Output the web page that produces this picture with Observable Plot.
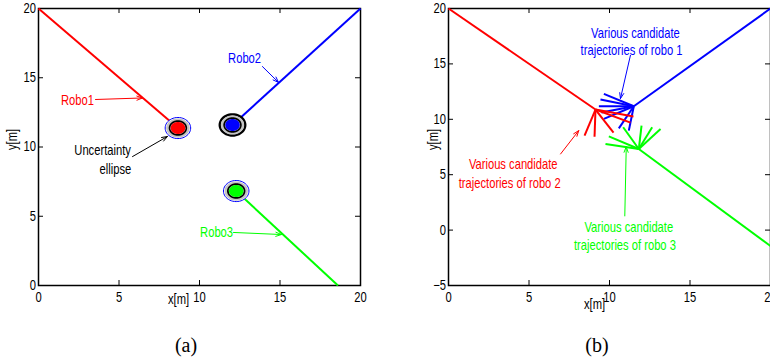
<!DOCTYPE html>
<html><head><meta charset="utf-8">
<script src="https://cdn.jsdelivr.net/npm/d3@7"></script>
<script src="https://cdn.jsdelivr.net/npm/@observablehq/plot@0.6"></script>
<style>
html,body{margin:0;padding:0;background:#fff;overflow:hidden;width:770px;height:362px;}
#wrap{position:relative;width:770px;height:362px;overflow:hidden;}
.panel{position:absolute;top:0;}
.panel svg{max-width:none !important;}
.cap{position:absolute;font-family:"Liberation Serif","DejaVu Serif",serif;font-size:20px;line-height:24px;top:333px;transform:translateX(-50%);}
</style></head><body><div id="wrap">
<div class="panel" id="pa" style="left:0px;width:400px;height:320px"></div>
<div class="panel" id="pb" style="left:410px;width:380px;height:320px"></div>
<div class="cap" style="left:186px">(a)</div>
<div class="cap" style="left:597px">(b)</div>
</div>
<script>
// ---------- Panel (a) data ----------
const robotsA = ["Robo1", "Robo2", "Robo3"];
const posAX = [8.66, 12.05, 12.28];
const posAY = [11.37, 11.59, 6.82];
const startAX = [0, 20, 18.6];
const startAY = [20, 20, 0];
const notesA = ["Robo1", "Uncertainty", "ellipse", "Robo2", "Robo3"];
const notesAX = [2.42, 3.98, 4.78, 12.80, 11.06];
const notesAY = [13.36, 9.75, 8.38, 16.39, 3.83];
const arrowsAX1 = [3.54, 5.84, 13.91, 12.11];
const arrowsAY1 = [13.43, 9.31, 15.81, 3.83];
const arrowsAX2 = [6.46, 8.01, 14.91, 15.09];
const arrowsAY2 = [13.54, 10.76, 14.66, 3.68];
const xTicksA = [0, 5, 10, 15, 20];
const yTicksA = [0, 5, 10, 15, 20];

// ---------- Panel (b) data ----------
const robotsB = ["robo 1", "robo 2", "robo 3"];
const posBX = [11.51, 9.13, 11.82];
const posBY = [11.18, 10.88, 7.32];
const startBX = [20, 0, 20];
const startBY = [20, 20, -1.44];
const cand1X = [9.65, 9.44, 9.34, 9.50, 9.65, 10.58, 11.20];
const cand1Y = [12.30, 11.79, 11.18, 10.61, 10.04, 9.18, 8.98];
const cand2X = [11.49, 11.30, 10.25, 9.07, 8.45];
const cand2Y = [10.25, 9.70, 8.80, 8.43, 8.52];
const cand3X = [9.75, 9.96, 10.85, 11.99, 12.65, 13.17];
const cand3Y = [7.77, 8.46, 9.28, 9.43, 9.28, 9.13];
const notesB = ["Various candidate", "trajectories of robo 1", "Various candidate", "trajectories of robo 2", "Various candidate", "trajectories of robo 3"];
const notesBX = [11.61, 11.37, 4.02, 3.80, 11.20, 10.96];
const notesBY = [17.76, 16.23, 5.90, 4.22, 0.22, -1.35];
const arrowsBX1 = [11.30, 6.96, 10.95];
const arrowsBY1 = [15.77, 6.87, 1.28];
const arrowsBX2 = [10.68, 8.09, 11.04];
const arrowsBY2 = [11.87, 8.98, 7.53];
const xTicksB = [0, 5, 10, 15, 20];
const yTicksB = [-5, 0, 5, 10, 15, 20];

// ---------- styles ----------
const RED = "#ff0000", BLUE = "#0000ff", GREEN = "#00ff00";
const colorA = {"Robo1": RED, "Robo2": BLUE, "Robo3": GREEN};
const colorB = {"robo 1": BLUE, "robo 2": RED, "robo 3": GREEN};
const ringStrokeA = {"Robo1": BLUE, "Robo2": "black", "Robo3": BLUE};
const ringWidthA = {"Robo1": 1, "Robo2": 2.4, "Robo3": 1};
const noteColorA = [RED, "black", "black", BLUE, GREEN];
const noteColorB = [BLUE, BLUE, RED, RED, GREEN, GREEN];
const arrowColorA = [RED, "black", BLUE, GREEN];
const arrowColorB = [BLUE, RED, GREEN];
const FONT = '"Liberation Sans",Arial,sans-serif';
const FS = 14;
const NARROW = 0.8;
const FW = 322, FH = 277, TL = 5;

const ellipseSym = {
  draw(ctx, size) {
    const r = Math.sqrt(size / Math.PI), a = 1.1;
    const rx = r * a, ry = r / a, n = 48;
    for (let i = 0; i < n; i++) {
      const t = 2 * Math.PI * i / n;
      const px = rx * Math.cos(t), py = ry * Math.sin(t);
      if (i === 0) ctx.moveTo(px, py); else ctx.lineTo(px, py);
    }
    ctx.closePath();
  }
};

function frameMarks(xTicks, yTicks, xLabelDx, xLabelDy, yLabelDx, yLabelDy) {
  return [
    Plot.frame({stroke: "black", strokeWidth: 1.5}),
    Plot.tickX(xTicks, {x: d => d, insetTop: FH - TL, stroke: "black"}),
    Plot.tickX(xTicks, {x: d => d, insetBottom: FH - TL, stroke: "black"}),
    Plot.tickY(yTicks, {y: d => d, insetRight: FW - TL, stroke: "black"}),
    Plot.tickY(yTicks, {y: d => d, insetLeft: FW - TL, stroke: "black"}),
    Plot.axisX(xTicks, {tickSize: 0, tickPadding: 7, label: null, fontSize: FS, fontFamily: FONT, fill: "black"}),
    Plot.axisY(yTicks, {tickSize: 0, tickPadding: 2.5, label: null, fontSize: FS, fontFamily: FONT, fill: "black"}),
    Plot.text(["x[m]"], {frameAnchor: "bottom", dx: xLabelDx, dy: xLabelDy, fontSize: FS, fontFamily: FONT, fill: "black"}),
    Plot.text(["y[m]"], {frameAnchor: "left", dx: yLabelDx, dy: yLabelDy, rotate: -90, fontSize: FS, fontFamily: FONT, fill: "black"})
  ];
}

// condense every text horizontally around its own anchor (MATLAB narrow Helvetica look)
function condense(svg) {
  svg.querySelectorAll("text").forEach(t => {
    let x = parseFloat(t.getAttribute("x"));
    if (!isFinite(x)) x = 0;
    const tr = t.getAttribute("transform") || "";
    t.setAttribute("transform", `${tr} translate(${x},0) scale(${NARROW},1) translate(${-x},0)`);
  });
  return svg;
}

// ---------- Panel (a) ----------
const idxA = robotsA.map((_, i) => i);
const plotA = Plot.plot({
  width: 400, height: 320,
  marginLeft: 38, marginRight: 40, marginTop: 8, marginBottom: 35,
  x: {domain: [0, 20]}, y: {domain: [0, 20]},
  style: {background: "transparent", overflow: "visible", fontFamily: FONT, maxWidth: "none"},
  marks: [
    ...frameMarks(xTicksA, yTicksA, -21, 18, -26, 3),
    Plot.link(idxA, {x1: i => startAX[i], y1: i => startAY[i], x2: i => posAX[i], y2: i => posAY[i],
      stroke: i => colorA[robotsA[i]], strokeWidth: 2}),
    Plot.dot(idxA, {x: i => posAX[i], y: i => posAY[i], r: 11.6, symbol: ellipseSym, fill: "white",
      stroke: i => ringStrokeA[robotsA[i]], strokeWidth: i => ringWidthA[robotsA[i]]}),
    Plot.dot(idxA, {x: i => posAX[i], y: i => posAY[i], r: 10.6, symbol: ellipseSym, fill: "#c4c4c4"}),
    Plot.dot(idxA, {x: i => posAX[i], y: i => posAY[i], r: 7.6, symbol: ellipseSym, fill: "none", stroke: "black", strokeWidth: 1.7}),
    Plot.dot(idxA, {x: i => posAX[i], y: i => posAY[i], r: 6.6, symbol: ellipseSym, fill: i => colorA[robotsA[i]]}),
    Plot.arrow(arrowsAX1.map((_, i) => i), {x1: i => arrowsAX1[i], y1: i => arrowsAY1[i], x2: i => arrowsAX2[i], y2: i => arrowsAY2[i],
      stroke: i => arrowColorA[i], strokeWidth: 1, headLength: 9, headAngle: 40}),
    Plot.text(notesA, {x: (d, i) => notesAX[i], y: (d, i) => notesAY[i], fill: (d, i) => noteColorA[i],
      fontSize: FS, fontFamily: FONT})
  ]
});
document.getElementById("pa").appendChild(condense(plotA));

// ---------- Panel (b) ----------
const idxB = robotsB.map((_, i) => i);
const candX = [cand1X, cand2X, cand3X], candY = [cand1Y, cand2Y, cand3Y];
const candRows = [];
candX.forEach((xs, r) => xs.forEach((x, k) => candRows.push({r, k})));
const plotB = Plot.plot({
  width: 380, height: 320,
  marginLeft: 38, marginRight: 20, marginTop: 8, marginBottom: 35,
  x: {domain: [0, 20]}, y: {domain: [-5, 20]},
  style: {background: "transparent", overflow: "visible", fontFamily: FONT, maxWidth: "none"},
  marks: [
    ...frameMarks(xTicksB, yTicksB, -15, 23, -15, 3),
    Plot.link(idxB, {x1: i => startBX[i], y1: i => startBY[i], x2: i => posBX[i], y2: i => posBY[i],
      stroke: i => colorB[robotsB[i]], strokeWidth: 2}),
    Plot.link(candRows, {x1: d => posBX[d.r], y1: d => posBY[d.r], x2: d => candX[d.r][d.k], y2: d => candY[d.r][d.k],
      stroke: d => colorB[robotsB[d.r]], strokeWidth: 2}),
    Plot.arrow(arrowsBX1.map((_, i) => i), {x1: i => arrowsBX1[i], y1: i => arrowsBY1[i], x2: i => arrowsBX2[i], y2: i => arrowsBY2[i],
      stroke: i => arrowColorB[i], strokeWidth: 1, headLength: 9, headAngle: 40}),
    Plot.text(notesB, {x: (d, i) => notesBX[i], y: (d, i) => notesBY[i], fill: (d, i) => noteColorB[i],
      fontSize: FS, fontFamily: FONT})
  ]
});
document.getElementById("pb").appendChild(condense(plotB));
</script>
</body></html>
